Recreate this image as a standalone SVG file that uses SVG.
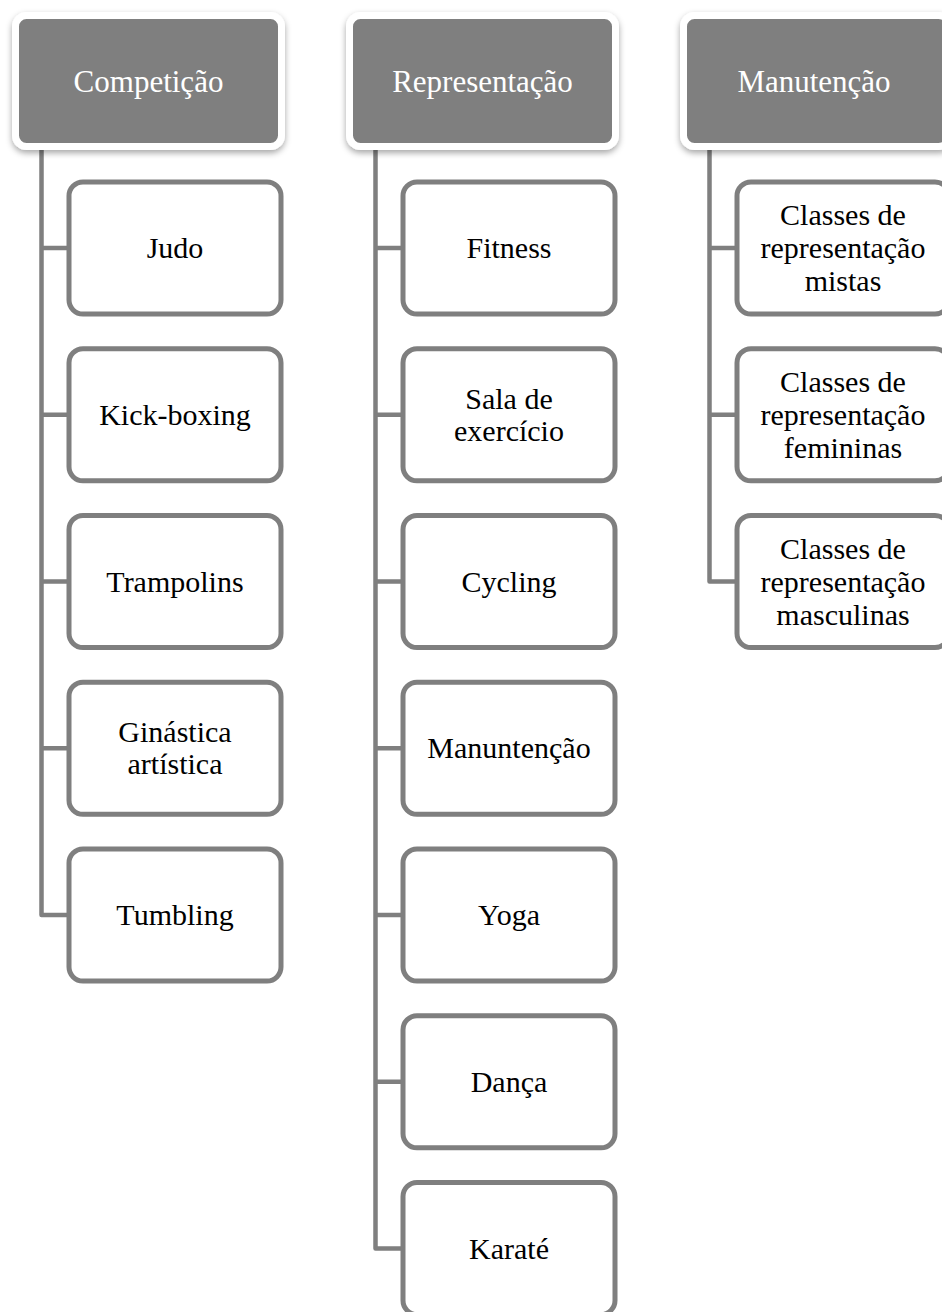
<svg xmlns="http://www.w3.org/2000/svg" width="942" height="1312" viewBox="0 0 942 1312">
<style>
.hdr{fill:#7f7f7f;stroke:#ffffff;stroke-width:7}
.box{fill:#ffffff;stroke:#7f7f7f;stroke-width:5}
.ht{font-family:"Liberation Serif",serif;font-size:31px;fill:#ffffff;text-anchor:middle}
.bt{font-family:"Liberation Serif",serif;font-size:30px;fill:#000000;text-anchor:middle}
.con{fill:none;stroke:#7f7f7f;stroke-width:4.5;stroke-linejoin:round}
</style>
<defs>
<filter id="sh" x="-10%" y="-10%" width="120%" height="130%">
<feDropShadow dx="0" dy="3" stdDeviation="3" flood-color="#000" flood-opacity="0.35"/>
</filter>
</defs>
<rect width="942" height="1312" fill="#ffffff"/>
<g id="connectors">
<path class="con" d="M41.5 146 V915 H69 M41.5 248 H69 M41.5 414.75 H69 M41.5 581.5 H69 M41.5 748.25 H69"/>
<path class="con" d="M375.5 146 V1248.5 H403 M375.5 248 H403 M375.5 414.75 H403 M375.5 581.5 H403 M375.5 748.25 H403 M375.5 915 H403 M375.5 1081.75 H403"/>
<path class="con" d="M709.5 146 V581.5 H737 M709.5 248 H737 M709.5 414.75 H737"/>
</g>
<g id="competicao">
<rect class="hdr" x="15.5" y="15.5" width="266" height="131" rx="11" filter="url(#sh)"/>
<text class="ht" x="148.5" y="92">Competição</text>
</g>
<g id="representacao">
<rect class="hdr" x="349.5" y="15.5" width="266" height="131" rx="11" filter="url(#sh)"/>
<text class="ht" x="482.5" y="92">Representação</text>
</g>
<g id="manutencao">
<rect class="hdr" x="683.5" y="15.5" width="266" height="131" rx="11" filter="url(#sh)"/>
<text class="ht" x="814" y="92">Manutenção</text>
</g>
<g id="judo"><rect class="box" x="69" y="182" width="212" height="132" rx="14"/><text class="bt" x="175" y="258">Judo</text></g>
<g id="kickboxing"><rect class="box" x="69" y="348.75" width="212" height="132" rx="14"/><text class="bt" x="175" y="424.75">Kick-boxing</text></g>
<g id="trampolins"><rect class="box" x="69" y="515.5" width="212" height="132" rx="14"/><text class="bt" x="175" y="591.5">Trampolins</text></g>
<g id="ginastica"><rect class="box" x="69" y="682.25" width="212" height="132" rx="14"/><text class="bt" x="175" y="742">Ginástica</text><text class="bt" x="175" y="774">artística</text></g>
<g id="tumbling"><rect class="box" x="69" y="849" width="212" height="132" rx="14"/><text class="bt" x="175" y="925">Tumbling</text></g>
<g id="fitness"><rect class="box" x="403" y="182" width="212" height="132" rx="14"/><text class="bt" x="509" y="258">Fitness</text></g>
<g id="sala"><rect class="box" x="403" y="348.75" width="212" height="132" rx="14"/><text class="bt" x="509" y="408.5">Sala de</text><text class="bt" x="509" y="440.5">exercício</text></g>
<g id="cycling"><rect class="box" x="403" y="515.5" width="212" height="132" rx="14"/><text class="bt" x="509" y="591.5">Cycling</text></g>
<g id="manuntencao"><rect class="box" x="403" y="682.25" width="212" height="132" rx="14"/><text class="bt" x="509" y="758.25">Manuntenção</text></g>
<g id="yoga"><rect class="box" x="403" y="849" width="212" height="132" rx="14"/><text class="bt" x="509" y="925">Yoga</text></g>
<g id="danca"><rect class="box" x="403" y="1015.75" width="212" height="132" rx="14"/><text class="bt" x="509" y="1091.75">Dança</text></g>
<g id="karate"><rect class="box" x="403" y="1182.5" width="212" height="132" rx="14"/><text class="bt" x="509" y="1258.5">Karaté</text></g>
<g id="mistas"><rect class="box" x="737" y="182" width="212" height="132" rx="14"/><text class="bt" x="843" y="225">Classes de</text><text class="bt" x="843" y="258">representação</text><text class="bt" x="843" y="291">mistas</text></g>
<g id="femininas"><rect class="box" x="737" y="348.75" width="212" height="132" rx="14"/><text class="bt" x="843" y="391.75">Classes de</text><text class="bt" x="843" y="424.75">representação</text><text class="bt" x="843" y="457.75">femininas</text></g>
<g id="masculinas"><rect class="box" x="737" y="515.5" width="212" height="132" rx="14"/><text class="bt" x="843" y="558.5">Classes de</text><text class="bt" x="843" y="591.5">representação</text><text class="bt" x="843" y="624.5">masculinas</text></g>
</svg>
